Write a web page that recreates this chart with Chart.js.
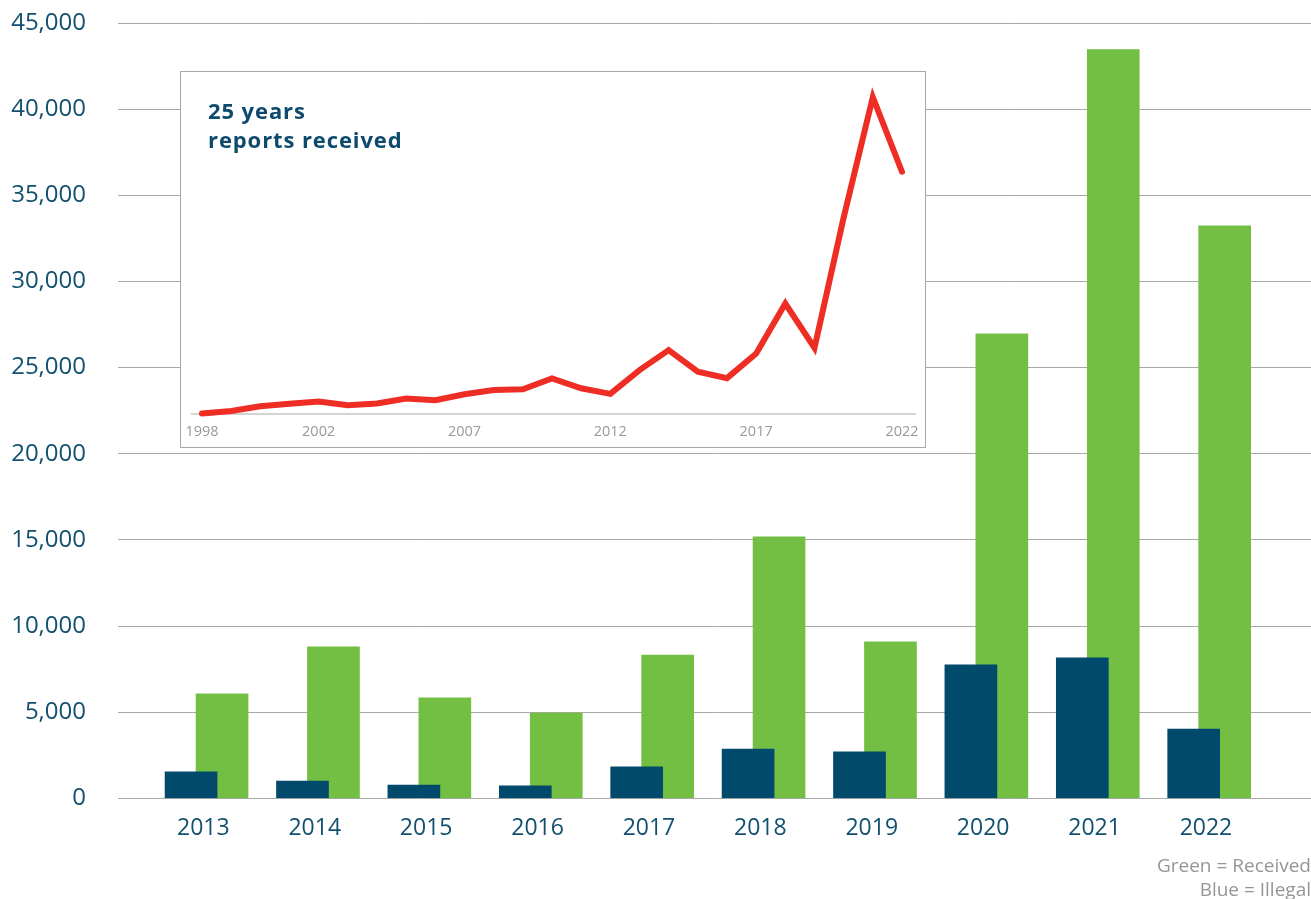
<!DOCTYPE html>
<html>
<head>
<meta charset="utf-8">
<script src="https://cdn.jsdelivr.net/npm/chart.js@4"></script>
<style>
  html, body { margin:0; padding:0; background:#fff; width:1311px; height:899px; overflow:hidden; }
  #wrap { position:relative; width:1311px; height:899px; }
  #main { position:absolute; left:0; top:0; }
  #insetBox { position:absolute; left:180px; top:71px; width:744px; height:375px; border:1px solid #a8a8a8; background:#fff; }
  #inset { position:absolute; left:0; top:0; }
  #insetTitle { position:absolute; left:27px; top:24px; font-family:'Open Sans', sans-serif; font-weight:700; font-size:22px; line-height:29px; letter-spacing:0.9px; color:#0d4a6b; white-space:nowrap; }
  #note { position:absolute; right:0; top:853px; text-align:right; font-family:'Open Sans', sans-serif; font-size:19px; line-height:24px; color:#969696; white-space:nowrap; }
</style>
</head>
<body>
<div id="wrap">
  <canvas id="main" width="1311" height="899"></canvas>
  <div id="insetBox">
    <canvas id="inset" width="744" height="375"></canvas>
    <div id="insetTitle">25 years<br>reports received</div>
  </div>
  <div id="note">Green = Received<br>Blue = Illegal</div>
</div>
<script>
// ---- main chart data ----
const years = [2013, 2014, 2015, 2016, 2017, 2018, 2019, 2020, 2021, 2022];
const received = [6060, 8790, 5830, 4950, 8320, 15170, 9080, 26960, 43450, 33230];
const illegal = [1530, 1000, 770, 720, 1820, 2860, 2690, 7740, 8150, 4020];
const yTicks = [0, 5000, 10000, 15000, 20000, 25000, 30000, 35000, 40000, 45000];

// ---- inset (25 years) data ----
const insetYears = [1998, 1999, 2000, 2001, 2002, 2003, 2004, 2005, 2006, 2007, 2008, 2009, 2010,
                    2011, 2012, 2013, 2014, 2015, 2016, 2017, 2018, 2019, 2020, 2021, 2022];
const insetReports = [100, 450, 1090, 1450, 1760, 1250, 1470, 2150, 1940, 2750, 3330, 3420, 4900,
                      3560, 2800, 6060, 8790, 5830, 4950, 8320, 15170, 9080, 26960, 43450, 33230];
const insetTickYears = [1998, 2002, 2007, 2012, 2017, 2022];

const TEAL = '#12506f';
Chart.defaults.font.family = "'Open Sans', sans-serif";

// axis window (years) for the main chart; blue & green bars sit on shifted copies
const X_MIN = 2012.234, X_SPAN = 10.709;
const BLUE_SHIFT = 0.110, GREEN_SHIFT = -0.168;

const hiddenX = (shift) => ({
  type: 'linear', display: false, offset: false,
  min: X_MIN + shift, max: X_MIN + shift + X_SPAN,
  grid: { display: false }, ticks: { display: false, padding: 0 }
});

new Chart(document.getElementById('main'), {
  type: 'bar',
  data: {
    datasets: [
      { label: 'Illegal', data: years.map((y, i) => ({ x: y, y: illegal[i] })),
        backgroundColor: '#014a6b', xAxisID: 'xb', barThickness: 52, grouped: false },
      { label: 'Received', data: years.map((y, i) => ({ x: y, y: received[i] })),
        backgroundColor: '#72bf44', xAxisID: 'xg', barThickness: 52, grouped: false }
    ]
  },
  options: {
    responsive: false, animation: false, devicePixelRatio: 1,
    layout: { padding: { left: 0, right: 0, top: 23, bottom: 60.7 } },
    plugins: { legend: { display: false }, tooltip: { enabled: false } },
    scales: {
      x: {
        type: 'linear', position: 'bottom', offset: false, min: X_MIN, max: X_MIN + X_SPAN,
        grid: { display: true, drawOnChartArea: false, drawTicks: true, tickLength: 16, tickColor: 'rgba(0,0,0,0)', offset: false },
        border: { display: false },
        ticks: { color: TEAL, font: { size: 23 }, padding: 0, callback: v => String(v) },
        afterBuildTicks: s => { s.ticks = years.map(v => ({ value: v })); },
        afterFit: s => { s.height = 40; }
      },
      xb: hiddenX(BLUE_SHIFT),
      xg: hiddenX(GREEN_SHIFT),
      y: {
        min: 0, max: 45000,
        grid: { color: '#a8a8a8', lineWidth: 1, drawTicks: true, tickLength: 32, tickColor: 'rgba(0,0,0,0)' },
        border: { display: false },
        ticks: { color: TEAL, font: { size: 24 }, padding: 0, callback: v => v.toLocaleString('en-US') },
        afterBuildTicks: s => { s.ticks = yTicks.map(v => ({ value: v })); },
        afterFit: s => { s.width = 118; }
      }
    }
  }
});

new Chart(document.getElementById('inset'), {
  type: 'line',
  data: {
    datasets: [{
      data: insetYears.map((y, i) => ({ x: y, y: insetReports[i] })),
      borderColor: '#ee2e24', borderWidth: 6, pointRadius: 0, tension: 0,
      borderCapStyle: 'round', borderJoinStyle: 'miter', fill: false, clip: false
    }]
  },
  options: {
    responsive: false, animation: false, devicePixelRatio: 1,
    layout: { padding: { left: 10.7, right: 10, top: 6.5, bottom: 2.7 } },
    plugins: { legend: { display: false }, tooltip: { enabled: false } },
    scales: {
      x: {
        type: 'linear', offset: false, min: 1997.647, max: 2022.446,
        grid: { display: true, drawOnChartArea: false, drawTicks: true, tickLength: 9, tickColor: 'rgba(0,0,0,0)' },
        border: { display: true, color: '#d4d4d4', width: 2 },
        ticks: { color: '#9a9a9a', font: { size: 14.5 }, padding: 0, callback: v => String(v) },
        afterBuildTicks: s => { s.ticks = insetTickYears.map(v => ({ value: v })); },
        afterFit: s => { s.height = 30; }
      },
      y: { display: false, min: 0, max: 46000 }
    }
  }
});
</script>
</body>
</html>
